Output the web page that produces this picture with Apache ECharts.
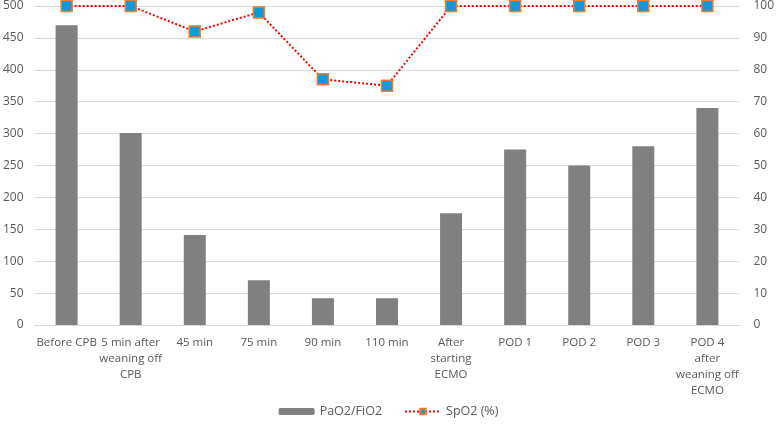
<!DOCTYPE html>
<html><head><meta charset="utf-8">
<script src="https://cdn.jsdelivr.net/npm/echarts@6/dist/echarts.min.js"></script>
<style>html,body{margin:0;padding:0;background:#fff}#c{width:777px;height:425px}</style>
</head><body><div id="c"></div>
<script>
var categories = ["Before CPB", "5 min after\nweaning off\nCPB", "45 min", "75 min", "90 min", "110 min", "After\nstarting\nECMO", "POD 1", "POD 2", "POD 3", "POD 4\nafter\nweaning off\nECMO"];
var pao2fio2 = [470, 301, 141, 70, 42, 42, 175, 275, 250, 280, 340];
var spo2 = [100, 100, 92, 98, 77, 75, 100, 100, 100, 100, 100];
var leftTicks = [0, 500, 50];
var rightTicks = [0, 100, 10];

var font = "'Open Sans', sans-serif";
var chart = echarts.init(document.getElementById('c'));
chart.setOption({
  animation: false,
  grid: {left: 33, right: 34, top: 6, bottom: 100, containLabel: false},
  legend: {
    bottom: 2, left: 'center', itemGap: 22, itemWidth: 36, itemHeight: 7,
    textStyle: {color: '#595959', fontSize: 12.5, fontFamily: font},
    data: [{name: 'PaO2/FiO2'}, {name: 'SpO2 (%)'}]
  },
  xAxis: {
    type: 'category', data: categories,
    axisLine: {lineStyle: {color: '#d9d9d9', width: 1}},
    axisTick: {show: false},
    axisLabel: {color: '#595959', fontSize: 11.5, fontFamily: font, lineHeight: 16, interval: 0, margin: 10}
  },
  yAxis: [
    {type: 'value', min: leftTicks[0], max: leftTicks[1], interval: leftTicks[2],
     axisLine: {show: false}, axisTick: {show: false},
     splitLine: {lineStyle: {color: '#d9d9d9', width: 1}},
     axisLabel: {color: '#595959', fontSize: 12, fontFamily: font, margin: 11}},
    {type: 'value', min: rightTicks[0], max: rightTicks[1], interval: rightTicks[2],
     axisLine: {show: false}, axisTick: {show: false}, splitLine: {show: false},
     axisLabel: {color: '#595959', fontSize: 12, fontFamily: font, margin: 14}}
  ],
  series: [
    {name: 'PaO2/FiO2', type: 'bar', data: pao2fio2, barWidth: 22,
     itemStyle: {color: '#808080'}},
    {name: 'SpO2 (%)', type: 'line', yAxisIndex: 1, data: spo2,
     symbol: 'rect', symbolSize: 11,
     itemStyle: {color: '#0e9ad8', borderColor: '#ed7d31', borderWidth: 1.5},
     lineStyle: {color: '#ff0000', width: 2, type: [2, 2]}}
  ]
});
</script></body></html>
